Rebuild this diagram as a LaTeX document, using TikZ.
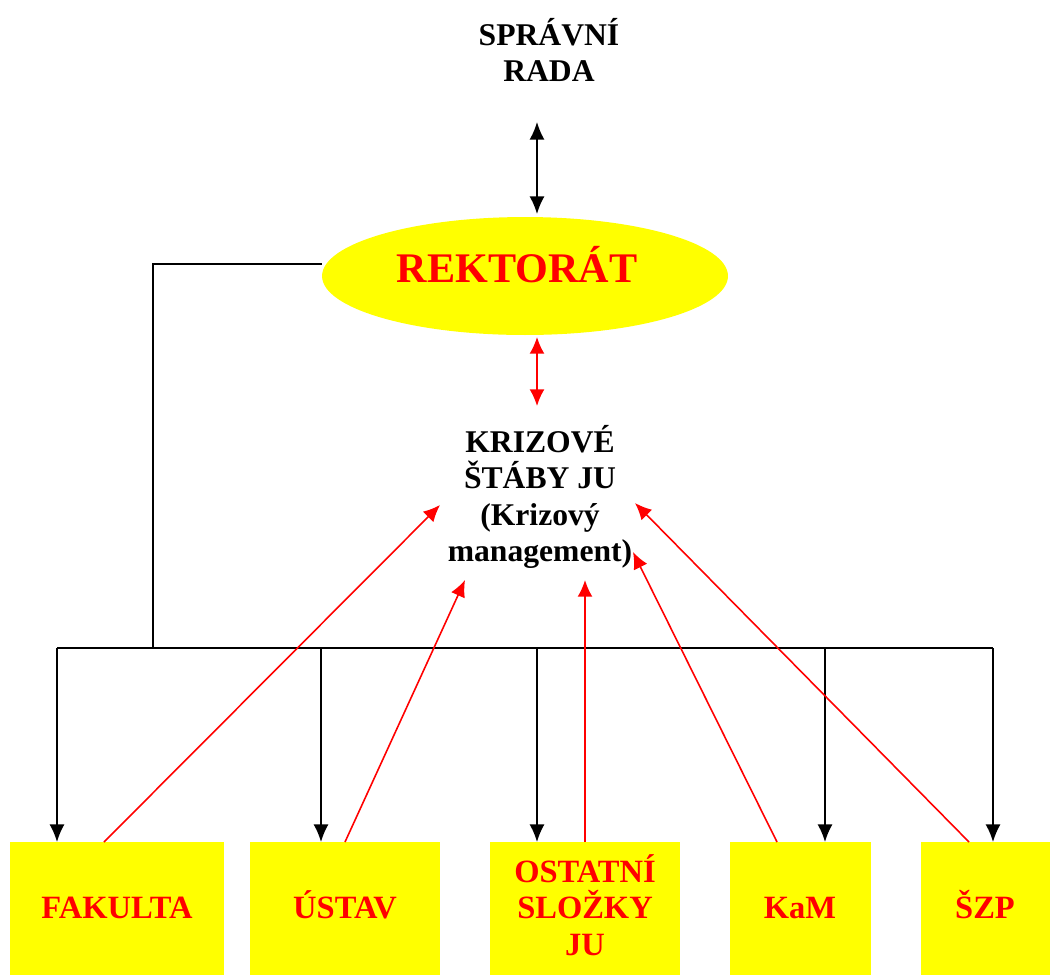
\documentclass[tikz,border=0pt]{standalone}
\usepackage{fontspec}
\setmainfont{Liberation Serif}
\usetikzlibrary{arrows.meta,shapes.geometric}
\definecolor{yel}{RGB}{255,255,0}
\definecolor{rd}{RGB}{255,0,0}
\tikzset{
  conn/.style={line width=0.9pt},
  blk/.style={conn,black,-{Latex[length=10pt,width=8.5pt]}},
  blkd/.style={conn,black,{Latex[length=10pt,width=8.5pt]}-{Latex[length=10pt,width=8.5pt]}},
  redd/.style={conn,rd,{Latex[length=9.5pt,width=8.5pt]}-{Latex[length=9.5pt,width=8.5pt]}},
  reda/.style={conn,rd,-{Latex[length=9.5pt,width=8.5pt]}},
  ttl/.style={font=\fontsize{18}{20.7}\selectfont\bfseries,align=center,inner sep=0pt},
  unit/.style={fill=yel,draw=none,anchor=north west,inner sep=0pt,minimum height=133*0.02cm},
  utxt/.style={inner sep=0pt,font=\fontsize{18.5}{20.7}\selectfont\bfseries,text=rd,align=center},
}
\begin{document}
\begin{tikzpicture}[x=0.02cm,y=-0.02cm]
\useasboundingbox (0,0) rectangle (1050,975);
\fill[white] (0,0) rectangle (1050,975);
% top text
\node[ttl] (sr) at (549,50) {SPRÁVNÍ\\RADA};
% ellipse
\node[ellipse,fill=yel,minimum width=8.12cm,minimum height=2.36cm,inner sep=0pt] (rek) at (525,276) {};
\node[font=\fontsize{24}{28}\selectfont\bfseries,text=rd,inner sep=0pt,anchor=base] (rektxt) at (517,282) {REKTORÁT};
% krizove
\node[ttl] (kri) at (540,497) {KRIZOVÉ\\ŠTÁBY JU\\(Krizový\\management)};
% boxes
\node[unit,minimum width=214*0.02cm] (fak) at (10,842) {};
\node[unit,minimum width=190*0.02cm] (ust) at (250,842) {};
\node[unit,minimum width=190*0.02cm] (ost) at (490,842) {};
\node[unit,minimum width=141*0.02cm] (kam) at (730,842) {};
\node[unit,minimum width=129*0.02cm] (szp) at (921,842) {};
\node[utxt,anchor=base] (fakt) at (117,918) {FAKULTA};
\node[utxt,anchor=base] (ustt) at (345,918) {ÚSTAV};
\node[utxt] (ostt) at (585,905) {OSTATNÍ\\SLOŽKY\\JU};
\node[utxt,anchor=base] (kamt) at (800,918) {KaM};
\node[utxt,anchor=base] (szpt) at (985,918) {ŠZP};
% coordinates
\coordinate (a1) at (537,122);
\coordinate (a2) at (537,214);
\coordinate (b1) at (537,337);
\coordinate (b2) at (537,406);
\coordinate (lft) at (322,264);
\coordinate (bend) at (153,264);
\coordinate (bus) at (153,648);
\coordinate (busL) at (57,648);
\coordinate (busR) at (993,648);
\coordinate (d2) at (321,648);
\coordinate (d3) at (537,648);
\coordinate (d4) at (825,648);
% black connectors
\draw[blkd] (a1) -- (a2);
\draw[redd] (b1) -- (b2);
\draw[conn] (lft) -- (bend) -- (bus);
\draw[conn] (busL) -- (busR);
\draw[blk] (busL) -- (busL |- fak.north);
\draw[blk] (d2) -- (d2 |- ust.north);
\draw[blk] (d3) -- (d3 |- ost.north);
\draw[blk] (d4) -- (d4 |- kam.north);
\draw[blk] (busR) -- (busR |- szp.north);
% red arrows
\coordinate (s1) at (104,842);
\coordinate (s2) at (345,842);
\coordinate (s3) at (585,842);
\coordinate (s4) at (777,842);
\coordinate (s5) at (969,842);
\coordinate (t1) at (440,505);
\coordinate (t2) at (465,580);
\coordinate (t3) at (585,580);
\coordinate (t4) at (633,552);
\coordinate (t5) at (635,503);
\draw[reda] (s1) -- (t1);
\draw[reda] (s2) -- (t2);
\draw[reda] (s3) -- (t3);
\draw[reda] (s4) -- (t4);
\draw[reda] (s5) -- (t5);
\end{tikzpicture}
\end{document}
